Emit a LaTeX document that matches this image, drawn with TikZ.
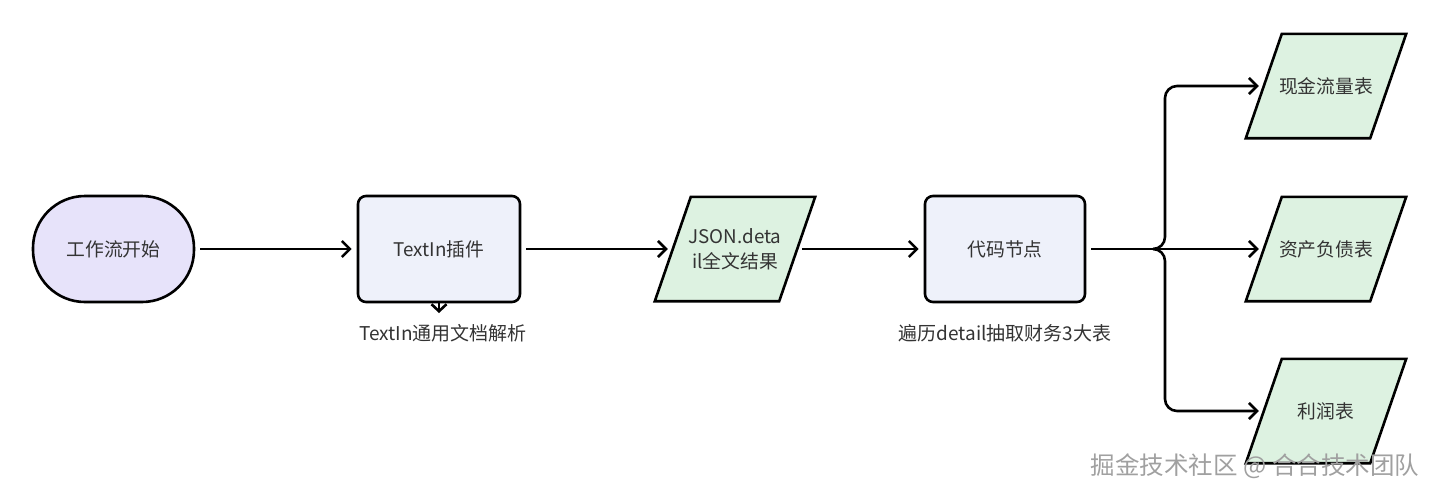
\documentclass[tikz,border=0pt]{standalone}
\usepackage{fontspec}
\setmainfont{Noto Sans CJK SC}
\usetikzlibrary{arrows.meta,calc}
\definecolor{startfill}{HTML}{E7E3FA}
\definecolor{procfill}{HTML}{EEF1FA}
\definecolor{datafill}{HTML}{DDF2E1}
\definecolor{txt}{HTML}{333333}
\definecolor{wmgray}{HTML}{A0A0A0}
\pgfdeclarelayer{bg}
\pgfsetlayers{bg,main}
\newcommand{\paragram}[1]{%
  \begin{pgfonlayer}{bg}
  \draw[shapeline, fill=datafill]
    ($(#1.north west)+(18,0)$) -- ($(#1.north east)+(18,0)$) --
    ($(#1.south east)+(-18,0)$) -- ($(#1.south west)+(-18,0)$) -- cycle;
  \end{pgfonlayer}}
\begin{document}
\begin{tikzpicture}[x=1pt,y=-1pt,line join=round,
 shapeline/.style={draw=black, line width=2.6pt},
 base/.style={shapeline, text=txt, font=\fontsize{18.8}{24}\selectfont, inner sep=0pt},
 startbox/.style={base, rectangle, rounded corners=52pt, minimum width=161pt, minimum height=106pt, fill=startfill},
 procbox/.style={base, rectangle, rounded corners=8pt, minimum width=162pt, minimum height=106pt, fill=procfill},
 databox/.style={rectangle, text=txt, font=\fontsize{18.8}{25}\selectfont, inner sep=0pt, minimum width=124pt, minimum height=104pt, align=center},
 arr/.style={line width=2.6pt, -{Straight Barb[length=8pt,width=16pt]}, shorten <=5pt, shorten >=5pt},
 plainline/.style={line width=2.6pt},
 lbl/.style={text=txt, font=\fontsize{19}{23}\selectfont, inner sep=0pt},
 wmark/.style={text=wmgray, font=\fontsize{24.5}{28}\selectfont, inner sep=0pt}
]
\useasboundingbox (0,0) rectangle (1440,499);
\node[startbox] (start) at (113.5,249) {工作流开始};
\node[procbox] (textin) at (439,249) {TextIn插件};
\node[databox] (json) at (735,249) {JSON.deta\\il全文结果};
\node[procbox, minimum width=160pt] (code) at (1005,249) {代码节点};
\node[databox] (cash) at (1326,86) {现金流量表};
\node[databox] (bal) at (1326,249) {资产负债表};
\node[databox] (profit) at (1326,411) {利润表};
\paragram{json}
\paragram{cash}
\paragram{bal}
\paragram{profit}
\node[lbl] (textinlbl) at (443,333) {TextIn通用文档解析};
\node[lbl] (codelbl) at (1005,333) {遍历detail抽取财务3大表};
\coordinate (stub) at (439,313);
\coordinate (j) at (1153,249);
\draw[arr] (start) -- (textin);
\draw[arr] (textin) -- (json);
\draw[arr] (json) -- (code);
\draw[plainline, shorten <=5pt] (code) -- (j);
\draw[arr, shorten <=0pt, rounded corners=12pt] (j) -- ++(12,0) |- (cash);
\draw[arr, shorten <=0pt] (j) -- (bal);
\draw[arr, shorten <=0pt, rounded corners=12pt] (j) -- ++(12,0) |- (profit);
\draw[plainline, -{Straight Barb[length=7pt,width=15pt]}] (textin.south) -- (stub);
\node[wmark] (wm) at (1255,466) {掘金技术社区 @ 合合技术团队};
\end{tikzpicture}
\end{document}
